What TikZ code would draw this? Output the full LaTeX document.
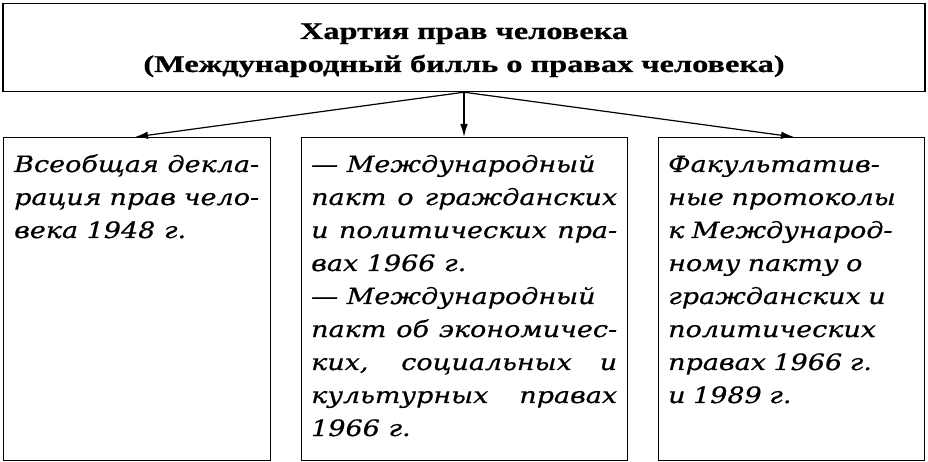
\documentclass[tikz,border=0pt]{standalone}
\usepackage{fontspec}
\setmainfont{Liberation Serif}
\newfontfamily\titlefont[FakeStretch=1.35,FakeBold=0.8]{Liberation Serif}
\newfontfamily\bodyfont[FakeStretch=1.2,FakeBold=0.6]{DejaVu Serif}
\usepackage{tikz}
\usetikzlibrary{arrows.meta,positioning}

\begin{document}
\begin{tikzpicture}[x=1pt,y=-1pt,
  box/.style={draw, line width=1.4pt, inner sep=0pt},
  bodytext/.style={inner sep=0pt, anchor=base west,
    font=\bodyfont\itshape\fontsize{22.5}{33}\selectfont},
  link/.style={line width=1.2pt, -{Latex[length=13pt,width=7.5pt]}}]

  % Page frame
  \useasboundingbox (0,0) rectangle (928,462);

  % Top box
  \node[box, minimum width=922pt, minimum height=88pt] (charter) at (464,47.5) {};
  \node[inner sep=0pt, anchor=base, text width=900pt, align=center,
    font=\titlefont\bfseries\fontsize{24}{33}\selectfont] (chartertext) at (464,39)
    {Хартия прав человека\\(Международный билль о правах человека)};

  % Lower boxes
  \node[box, minimum width=267pt, minimum height=323pt, anchor=north west] (decl) at (3,137) {};
  \node[box, minimum width=326pt, minimum height=323pt, anchor=north west] (pacts) at (301,137) {};
  \node[box, minimum width=266pt, minimum height=323pt, anchor=north west] (prot) at (658,137) {};

  % Texts of the lower boxes
  \node[bodytext, text width=245pt, align=justify] (decltext) at (14,172)
    {Всеобщая декла-\linebreak рация прав чело-\linebreak века 1948~г.};
  \node[bodytext, text width=306pt, align=justify] (pactstext) at (311,172)
    {— Международный\\ пакт о гражданских\linebreak и политических пра-\linebreak вах 1966~г.\\
     — Международный\\ пакт об экономичес-\linebreak ких, социальных и\linebreak культурных правах\linebreak 1966~г.};
  \node[bodytext, text width=240pt, align=left] (prottext) at (668,172)
    {Факультатив-\\ные протоколы\\к Международ-\\ному пакту о\\гражданских и\\политических\\правах 1966~г.\\и 1989~г.};

  % Arrows
  \coordinate (fork) at (charter.south);
  \draw[link] (fork) -- (decl.north -| 135,0);
  \draw[link] (fork) -- (pacts.north -| fork);
  \draw[link] (fork) -- (prot.north -| 794,0);

\end{tikzpicture}
\end{document}
